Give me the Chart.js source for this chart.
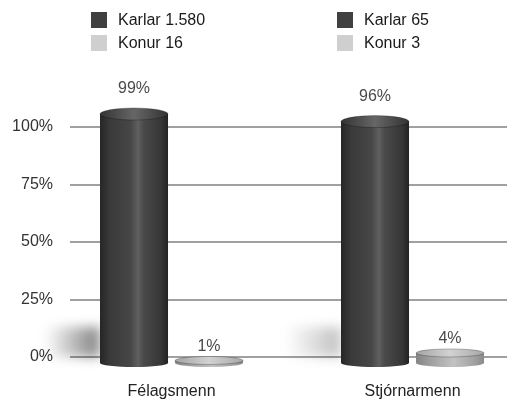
<!DOCTYPE html>
<html>
<head>
<meta charset="utf-8">
<script src="https://cdn.jsdelivr.net/npm/chart.js@4.4.1/dist/chart.umd.min.js"></script>
<style>
  body { margin: 0; background: #fff; font-family: "Liberation Sans", Arial, sans-serif; }
  #wrap { position: relative; width: 507px; height: 406px; overflow: hidden; }
  #chart { position: absolute; left: 0; top: 0; }
  .legend-item { position: absolute; font-size: 16px; line-height: 16px; color: #1a1a1a; white-space: nowrap; }
  .legend-item span { display: inline-block; width: 16px; height: 16px; vertical-align: top; margin-right: 11px; }
</style>
</head>
<body>
<div id="wrap">
  <canvas id="chart" width="507" height="406"></canvas>
</div>
<script>
const categories = ['Félagsmenn', 'Stjórnarmenn']
const seriesNames = ['Karlar', 'Konur']
const seriesColors = ['#404040', '#cfcfcf']
const karlarPct = [99, 96]
const konurPct = [1, 4]
const karlarCount = [1580, 65]
const konurCount = [16, 3]
const yTicks = [0, 25, 50, 75, 100]

const font = { family: '"Liberation Sans", Arial, sans-serif', size: 16 }

// 1580 -> "1.580"
const formatCount = n => String(n).replace(/\B(?=(\d{3})+(?!\d))/g, '.')

// legend: one column per category, Karlar above Konur
const legendCols = [91, 337]
const legendRows = [12, 35]
const wrap = document.getElementById('wrap')
categories.forEach((cat, ci) => {
    [karlarCount, konurCount].forEach((counts, si) => {
        const item = document.createElement('div')
        item.className = 'legend-item'
        item.style.left = legendCols[ci] + 'px'
        item.style.top = legendRows[si] + 'px'
        item.innerHTML = `<span style="background:${seriesColors[si]}"></span>${seriesNames[si]} ${formatCount(counts[ci])}`
        wrap.appendChild(item)
    })
})

const bodyStops = [
    [[0, '#262626'], [0.15, '#3a3a3a'], [0.45, '#474747'], [0.56, '#606060'], [0.64, '#4a4a4a'], [0.9, '#363636'], [1, '#222222']],
    [[0, '#858585'], [0.2, '#9e9e9e'], [0.55, '#c2c2c2'], [0.85, '#a2a2a2'], [1, '#8a8a8a']]
]
const capStops = [
    [[0, '#333333'], [0.5, '#666666'], [1, '#333333']],
    [[0, '#a4a4a4'], [0.5, '#d2d2d2'], [1, '#a8a8a8']]
]
const labelGap = [19, 10]
const shadowAlpha = [0.5, 0.25]

const hGradient = (ctx, x0, x1, stops) => {
    const g = ctx.createLinearGradient(x0, 0, x1, 0)
    stops.forEach(([o, c]) => g.addColorStop(o, c))
    return g
}

// shading, cylinder caps, floor shadows and value labels
const cylinders = {
    id: 'cylinders',
    beforeDatasetsDraw(chart) {
        const ctx = chart.ctx
        chart.getDatasetMeta(0).data.forEach((el, i) => {
            const left = el.x - el.width / 2
            ctx.save()
            ctx.filter = 'blur(6px)'
            const g = ctx.createLinearGradient(left - 55, 0, left, 0)
            g.addColorStop(0, 'rgba(0,0,0,0)')
            g.addColorStop(1, `rgba(0,0,0,${shadowAlpha[i]})`)
            ctx.fillStyle = g
            ctx.fillRect(left - 55, el.base - 36, 55, 30)
            ctx.restore()
        })
    },
    afterDatasetsDraw(chart) {
        const ctx = chart.ctx
        chart.data.datasets.forEach((ds, di) => {
            chart.getDatasetMeta(di).data.forEach((el, i) => {
                const w = el.width
                const x0 = el.x - w / 2
                const x1 = el.x + w / 2
                const ry = di === 0 ? 6 : 4
                const body = hGradient(ctx, x0, x1, bodyStops[di])
                ctx.save()
                // bottom rounding
                ctx.fillStyle = body
                ctx.beginPath()
                ctx.ellipse(el.x, el.base, w / 2, 4, 0, 0, Math.PI * 2)
                ctx.fill()
                ctx.fillRect(x0, el.y, w, el.base - el.y)
                // top cap
                ctx.fillStyle = hGradient(ctx, x0, x1, capStops[di])
                ctx.beginPath()
                ctx.ellipse(el.x, el.y, w / 2, ry, 0, 0, Math.PI * 2)
                ctx.fill()
                ctx.strokeStyle = 'rgba(0,0,0,0.25)'
                ctx.lineWidth = 1
                ctx.stroke()
                // value label
                ctx.fillStyle = '#4a4a4a'
                ctx.font = `16px ${font.family}`
                ctx.textAlign = 'center'
                ctx.textBaseline = 'middle'
                ctx.fillText(ds.data[i].y + '%', el.x, el.y - ry - labelGap[di])
                ctx.restore()
            })
        })
    }
}

const ctx = document.getElementById('chart').getContext('2d')
new Chart(ctx, {
    type: 'bar',
    data: {
        datasets: [
            {
                label: seriesNames[0],
                data: karlarPct.map((v, i) => ({ x: i, y: v })),
                backgroundColor: seriesColors[0],
                yAxisID: 'y2',
                clip: false,
            },
            {
                label: seriesNames[1],
                data: konurPct.map((v, i) => ({ x: i, y: v })),
                backgroundColor: seriesColors[1],
                yAxisID: 'y2',
                clip: false,
            }
        ]
    },
    options: {
        responsive: false,
        animation: false,
        categoryPercentage: 150 / 241,
        barPercentage: 68 / 75,
        layout: { padding: { top: 127, right: 0, bottom: 0, left: 0 } },
        plugins: {
            legend: { display: false },
            tooltip: { enabled: false },
        },
        scales: {
            x: {
                type: 'linear',
                min: -0.4212,
                max: 1.3921,
                offset: false,
                grid: { display: false, drawTicks: false, offset: false },
                border: { display: false },
                afterBuildTicks: scale => { scale.ticks = categories.map((c, i) => ({ value: i })) },
                afterFit: scale => { scale.height = 49 },
                ticks: {
                    callback: value => categories[value],
                    padding: 25,
                    color: '#222',
                    font: font,
                    maxRotation: 0,
                },
            },
            y: {
                min: 0,
                max: 100,
                afterBuildTicks: scale => { scale.ticks = yTicks.map(v => ({ value: v })) },
                afterFit: scale => { scale.width = 70 },
                grid: { color: '#a0a0a0', lineWidth: 2, drawTicks: false },
                border: { display: false },
                ticks: {
                    callback: value => value + '%',
                    padding: 17,
                    color: '#333',
                    font: font,
                },
            },
            // bars stand in front of the back wall, so they are drawn a bit larger
            y2: {
                type: 'linear',
                axis: 'y',
                position: 'left',
                display: false,
                min: 2.386,
                max: 93.84,
            },
        },
    },
    plugins: [cylinders],
})
</script>
</body>
</html>
